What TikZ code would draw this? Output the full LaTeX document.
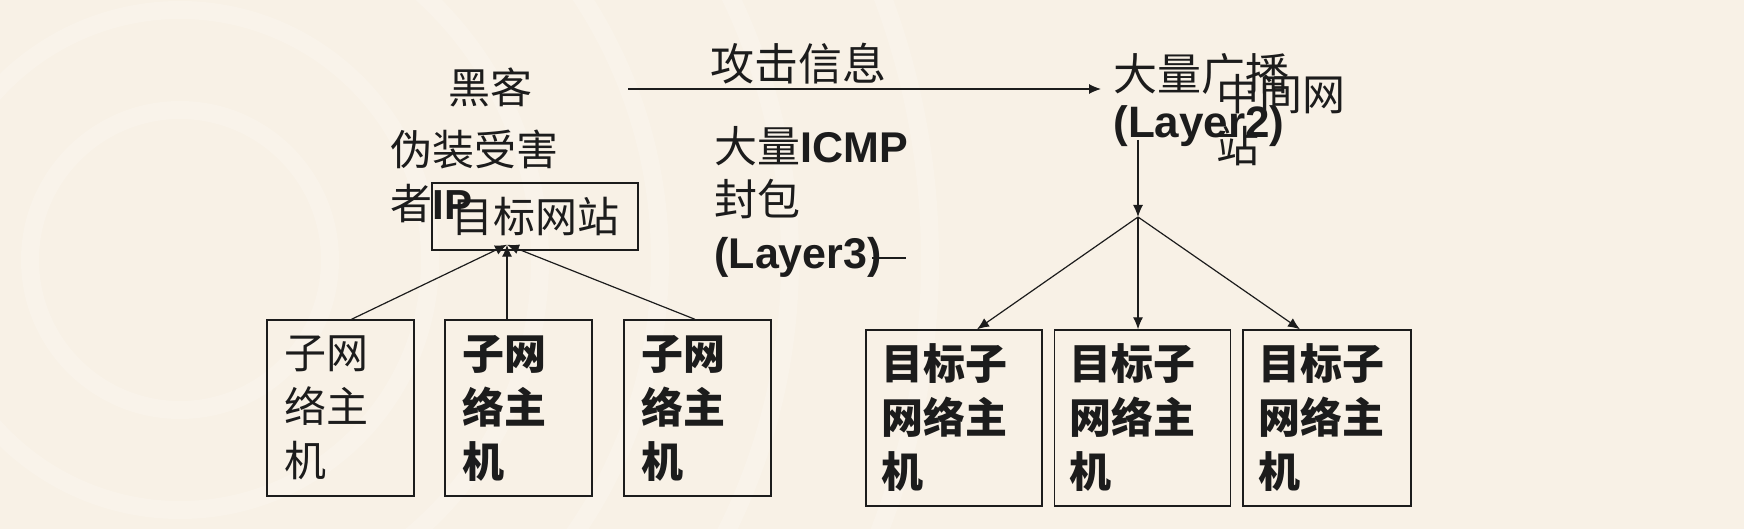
\documentclass[tikz,border=0pt]{standalone}
\usepackage{fontspec}
\setmainfont{Noto Sans CJK SC}
\newfontfamily\lat{Liberation Sans}
\usetikzlibrary{arrows.meta}
\definecolor{bg}{RGB}{248,241,230}
\definecolor{ink}{RGB}{28,28,28}
\tikzset{
  txt/.style={inner sep=0pt, anchor=north west, align=left, text=ink,
    font=\fontsize{21pt}{27pt}\selectfont},
  hostbox/.style={draw=ink, line width=0.7pt, inner xsep=8.5pt, inner ysep=0pt,
    minimum height=88pt, align=left, text=ink, text width=56.5pt,
    font=\fontsize{21pt}{27pt}\selectfont},
  tgtbox/.style={hostbox, inner xsep=7.5pt, text width=73pt,
    font=\fontsize{21pt}{27pt}\selectfont\bfseries},
  conn/.style={draw=ink, line width=0.6pt},
  arr/.style={conn, -{Latex[length=6pt,width=5pt]}}
}
\begin{document}
\begin{tikzpicture}[x=0.5pt,y=-0.5pt]
\useasboundingbox (0,0) rectangle (1744,529);
\fill[bg] (0,0) rectangle (1744,529);
\begin{scope}
  \clip (0,0) rectangle (1744,529);
  \foreach \r in {150,250,360,480,610,750}
    \draw[white, opacity=0.18, line width=9pt] (180,260) circle[radius=\r];
\end{scope}

% texts
\node[txt] (hk) at (448,67) {黑客};
\node[txt] (fz) at (390,130) {伪装受害\\者{\lat\bfseries IP}};
\node[txt, font=\fontsize{22pt}{27pt}\selectfont] (gj) at (710,43) {攻击信息};
\node[txt, font=\fontsize{21.5pt}{26.5pt}\selectfont] (icmp) at (714,126)
  {大量{\lat\bfseries ICMP}\\封包\\{\lat\bfseries (Layer3)}};
\node[txt, font=\fontsize{22pt}{23.5pt}\selectfont] (bc) at (1113,53)
  {大量广播\\{\lat\bfseries (Layer2)}};
\node[txt, font=\fontsize{21.5pt}{26pt}\selectfont] (zj) at (1216,74) {中间网\\站};

% target website box
\node[draw=ink, line width=0.7pt, minimum width=103pt, minimum height=33.5pt,
  inner sep=0pt, text=ink, font=\fontsize{21pt}{27pt}\selectfont] (tgt) at (535,216.5) {目标网站};

% left host boxes
\node[hostbox] (h1) at (340.5,408) {子网\\络主\\机};
\node[hostbox, font=\fontsize{21pt}{27pt}\selectfont\bfseries] (h2) at (518.5,408) {子网\\络主\\机};
\node[hostbox, font=\fontsize{21pt}{27pt}\selectfont\bfseries] (h3) at (697.5,408) {子网\\络主\\机};

% right target boxes
\node[tgtbox] (h4) at (954,418) {目标子\\网络主\\机};
\node[tgtbox] (h5) at (1142.5,418) {目标子\\网络主\\机};
\node[tgtbox, text width=69pt] (h6) at (1327,418) {目标子\\网络主\\机};

% left connectors
\draw[arr] ([xshift=5.5pt]h1.north) -- ([xshift=-14pt,yshift=3pt]tgt.south);
\draw[arr] ([xshift=-5.75pt]h2.north) -- ([xshift=-14pt,yshift=3pt]tgt.south);
\draw[arr] ([xshift=-1.25pt]h3.north) -- ([xshift=-14pt,yshift=3pt]tgt.south);

% attack arrow
\coordinate (a0) at (628,89);
\coordinate (a1) at (1101,89);
\draw[arr] (a0) -- (a1);

% short line after Layer3
\coordinate (o0) at (872,258);
\coordinate (o1) at (906,258);
\draw[conn] (o0) -- (o1);

% right connectors
\coordinate (src) at (1138,140);
\coordinate (br) at (1138,217);
\draw[arr] (src) -- (br);
\draw[arr] (br) -- ([xshift=11.5pt]h4.north);
\draw[arr] (br) -- (br |- h5.north);
\draw[arr] (br) -- ([xshift=-13.5pt]h6.north);
\end{tikzpicture}
\end{document}
